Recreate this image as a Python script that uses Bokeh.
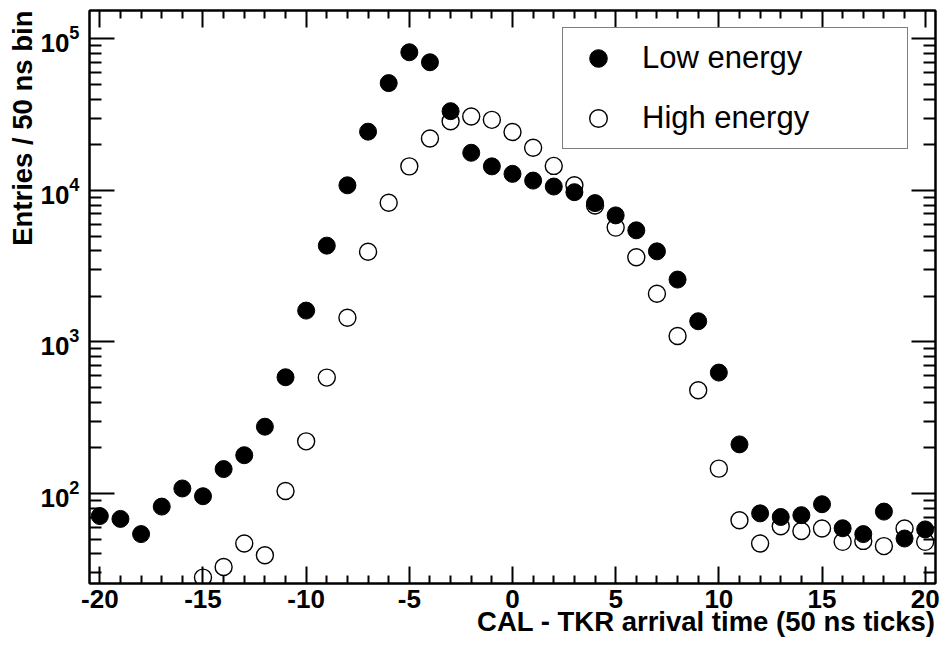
from bokeh.plotting import figure
from bokeh.models import (FixedTicker, LinearAxis, LogAxis, Legend, LegendItem, Title,
                          ColumnDataSource, CustomJSTickFormatter, Range1d)
from bokeh.embed import file_html
from bokeh.resources import INLINE

# ---- data ----
low_bins = list(range(-20, 21))
low_energy = [71, 68, 54, 82, 108, 96, 145, 179, 276, 585,
              1610, 4320, 10800, 24400, 51000, 81500, 70000, 33300, 17700, 14400,
              12850, 11600, 10600, 9730, 8240, 6840, 5450, 3960, 2580, 1370,
              628, 211, 74, 70, 72, 85, 59, 54, 76, 50.5, 58]

high_bins = list(range(-15, 21))
high_energy = [27.9, 32.8, 46.8, 39.2, 104, 221, 582, 1445, 3940, 8280,
               14400, 22000, 28600, 30700, 29200, 24300, 19100, 14500, 10800, 7950,
               5680, 3620, 2080, 1094, 480, 146, 66.7, 46.8, 60.8, 56.6,
               58.8, 48, 48.7, 45, 58.8, 48]

x_major = [-20, -15, -10, -5, 0, 5, 10, 15, 20]
x_major_labels = ["-20", "-15", "-10", "-5", "0", "5", "10", "15", "20"]
x_minor = [v for v in range(-20, 21) if v not in x_major]
y_major = [1e2, 1e3, 1e4, 1e5]
y_minor = [m * 10 ** e for e in range(1, 6) for m in range(2, 10)]
x_lo, x_hi = -20.5, 20.5
y_lo, y_hi = 25.5, 153700

x_title = "CAL - TKR arrival time (50 ns ticks)"
y_title = "Entries / 50 ns bin"
series_names = ["Low energy", "High energy"]

FONT = "Liberation Sans"
W, H = 943, 649
FL, FR, FT, FB = 89, 935, 10, 583          # frame edges in page pixels
MAJ_X, MIN_X = 17, 8                        # x tick lengths (px)
MAJ_Y, MIN_Y = 25, 12                       # y tick lengths (px)

p = figure(width=W, height=H, output_backend="svg", toolbar_location=None,
           x_range=Range1d(x_lo, x_hi), y_range=Range1d(y_lo, y_hi),
           y_axis_type="log",
           min_border_left=FL, min_border_right=W - FR,
           min_border_top=FT, min_border_bottom=H - FB)
p.xgrid.visible = False
p.ygrid.visible = False
p.outline_line_color = "black"
p.outline_line_width = 2
p.background_fill_color = "white"
p.border_fill_color = "white"


def style_axis(ax, major_len, minor_len, labels=True):
    ax.major_tick_in = major_len
    ax.major_tick_out = 0
    ax.minor_tick_in = minor_len
    ax.minor_tick_out = 0
    ax.axis_line_width = 2
    ax.axis_line_color = "black"
    ax.major_tick_line_width = 2
    ax.minor_tick_line_width = 2
    ax.major_tick_line_color = "black"
    ax.minor_tick_line_color = "black"
    ax.major_label_text_font = FONT
    ax.major_label_text_font_style = "bold"
    ax.major_label_text_color = "black"
    if labels:
        ax.major_label_text_font_size = "26px"
    else:
        ax.major_label_text_font_size = "1px"
        ax.major_label_standoff = 0
        ax.formatter = CustomJSTickFormatter(code="return ''")


xax = p.xaxis[0]
xax.ticker = FixedTicker(ticks=x_major, minor_ticks=x_minor)
style_axis(xax, MAJ_X, MIN_X)
xax.major_label_standoff = 6
xax.major_label_overrides = {t: s for t, s in zip(x_major, x_major_labels)}

yax = p.yaxis[0]
yax.ticker = FixedTicker(ticks=y_major, minor_ticks=y_minor)
style_axis(yax, MAJ_Y, MIN_Y)
yax.major_label_standoff = 10

top = LinearAxis(ticker=FixedTicker(ticks=x_major, minor_ticks=x_minor))
style_axis(top, MAJ_X, MIN_X, labels=False)
p.add_layout(top, "above")

right = LogAxis(ticker=FixedTicker(ticks=y_major, minor_ticks=y_minor))
style_axis(right, MAJ_Y - 1, MIN_Y, labels=False)
p.add_layout(right, "right")

p.add_layout(Title(text=x_title, align="right", text_font=FONT, text_font_style="bold",
                   text_color="black", text_font_size="27.5px", standoff=-13), "below")
p.add_layout(Title(text=y_title, align="right", text_font=FONT, text_font_style="bold",
                   text_color="black", text_font_size="27.5px", standoff=0), "left")

src_high = ColumnDataSource(dict(x=high_bins, y=high_energy))
src_low = ColumnDataSource(dict(x=low_bins, y=low_energy))

r_high = p.scatter("x", "y", source=src_high, marker="circle", size=17,
                   fill_color=None, line_color="black", line_width=1.4)
r_low = p.scatter("x", "y", source=src_low, marker="circle", size=17,
                  fill_color="black", line_color="black", line_width=1)

legend = Legend(items=[LegendItem(label=series_names[0], renderers=[r_low]),
                       LegendItem(label=series_names[1], renderers=[r_high])],
                location=(473, 434), orientation="vertical",
                padding=8, spacing=16, margin=0,
                glyph_width=54, glyph_height=44, label_height=44, label_width=257,
                label_standoff=17,
                label_text_font=FONT, label_text_font_size="31px",
                label_text_color="black",
                border_line_color="black", border_line_width=1.5,
                background_fill_color="white", background_fill_alpha=1)
p.add_layout(legend, "center")

open("out.html", "w").write(file_html(p, INLINE))
